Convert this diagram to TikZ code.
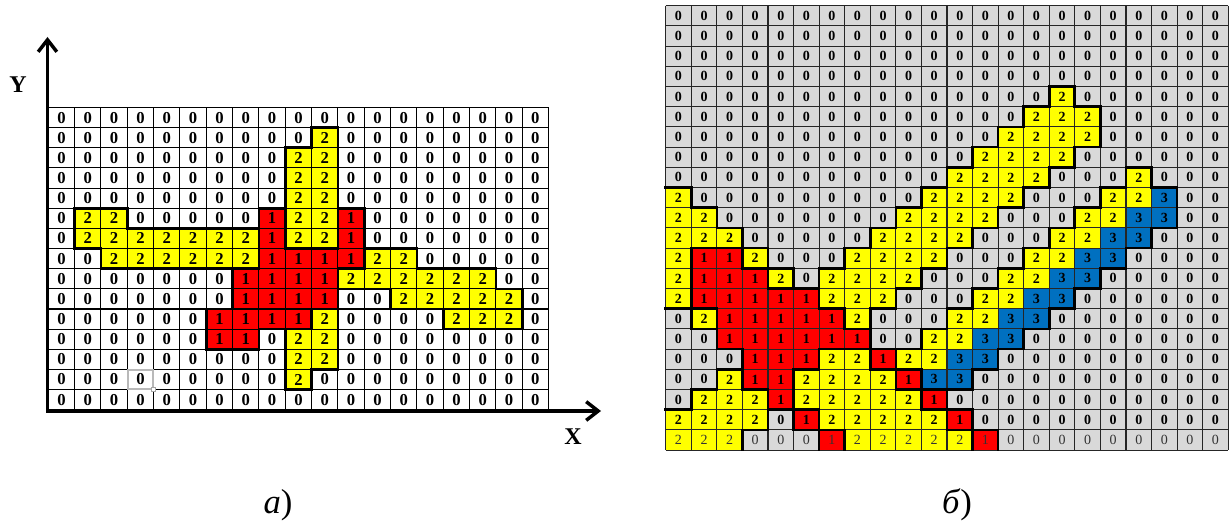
\documentclass[tikz,border=0pt]{standalone}
\usepackage{fontspec}
\setmainfont{Liberation Serif}
\usetikzlibrary{arrows.meta}
\definecolor{cyel}{HTML}{FFFF00}
\definecolor{cred}{HTML}{FF0000}
\definecolor{cblue}{HTML}{0070C0}
\definecolor{cgray}{HTML}{D9D9D9}
\colorlet{lc0}{white}\colorlet{lc1}{cred}\colorlet{lc2}{cyel}
\colorlet{rc0}{cgray}\colorlet{rc1}{cred}\colorlet{rc2}{cyel}\colorlet{rc3}{cblue}
\newcommand\loadgrid[2]{%
  \foreach \rowlist [count=\ri from 0] in {#2} {%
    \foreach \vv [count=\ci from 0] in \rowlist {%
      \expandafter\xdef\csname g#1@\ri @\ci\endcsname{\vv}%
      \expandafter\xdef\csname k#1@\ri @\ci\endcsname{\ifnum\vv=3 2\else\vv\fi}%
    }%
  }%
}
\def\LX{48.3}\def\LW{26.33}\def\LY{107.5}\def\LH{20.15}
\def\RX{665.7}\def\RW{25.57}\def\RY{5.7}\def\RH{20.2}
\begin{document}
\begin{tikzpicture}[x=0.75pt,y=-0.75pt,
  thinl/.style={line width=0.8pt, black},
  thinr/.style={line width=0.8pt, black!85},
  thickb/.style={line width=2pt, black, line cap=rect},
  lnum/.style={font=\fontsize{12.5}{12.5}\selectfont\bfseries, inner sep=0pt},
  rnum/.style={font=\fontsize{10.5}{10.5}\selectfont\bfseries, inner sep=0pt},
  rnumlast/.style={font=\fontsize{10.5}{10.5}\selectfont, inner sep=0pt, text=black!80},
  axislines/.style={line width=2.6pt, line join=miter, {Straight Barb[length=9pt,width=14pt]}-{Straight Barb[length=9pt,width=14pt]}},
  axlab/.style={font=\fontsize{18}{18}\selectfont\bfseries, inner sep=0pt},
  caplab/.style={font=\fontsize{26}{26}\selectfont, inner sep=0pt}]
\useasboundingbox (0,0) rectangle (1232,527);
\loadgrid{L}{{0,0,0,0,0,0,0,0,0,0,0,0,0,0,0,0,0,0,0},
{0,0,0,0,0,0,0,0,0,0,2,0,0,0,0,0,0,0,0},
{0,0,0,0,0,0,0,0,0,2,2,0,0,0,0,0,0,0,0},
{0,0,0,0,0,0,0,0,0,2,2,0,0,0,0,0,0,0,0},
{0,0,0,0,0,0,0,0,0,2,2,0,0,0,0,0,0,0,0},
{0,2,2,0,0,0,0,0,1,2,2,1,0,0,0,0,0,0,0},
{0,2,2,2,2,2,2,2,1,2,2,1,0,0,0,0,0,0,0},
{0,0,2,2,2,2,2,2,1,1,1,1,2,2,0,0,0,0,0},
{0,0,0,0,0,0,0,1,1,1,1,2,2,2,2,2,2,0,0},
{0,0,0,0,0,0,0,1,1,1,1,0,0,2,2,2,2,2,0},
{0,0,0,0,0,0,1,1,1,1,2,0,0,0,0,2,2,2,0},
{0,0,0,0,0,0,1,1,0,2,2,0,0,0,0,0,0,0,0},
{0,0,0,0,0,0,0,0,0,2,2,0,0,0,0,0,0,0,0},
{0,0,0,0,0,0,0,0,0,2,0,0,0,0,0,0,0,0,0},
{0,0,0,0,0,0,0,0,0,0,0,0,0,0,0,0,0,0,0}}
\loadgrid{R}{{0,0,0,0,0,0,0,0,0,0,0,0,0,0,0,0,0,0,0,0,0,0},
{0,0,0,0,0,0,0,0,0,0,0,0,0,0,0,0,0,0,0,0,0,0},
{0,0,0,0,0,0,0,0,0,0,0,0,0,0,0,0,0,0,0,0,0,0},
{0,0,0,0,0,0,0,0,0,0,0,0,0,0,0,0,0,0,0,0,0,0},
{0,0,0,0,0,0,0,0,0,0,0,0,0,0,0,2,0,0,0,0,0,0},
{0,0,0,0,0,0,0,0,0,0,0,0,0,0,2,2,2,0,0,0,0,0},
{0,0,0,0,0,0,0,0,0,0,0,0,0,2,2,2,2,0,0,0,0,0},
{0,0,0,0,0,0,0,0,0,0,0,0,2,2,2,2,0,0,0,0,0,0},
{0,0,0,0,0,0,0,0,0,0,0,2,2,2,2,0,0,0,2,0,0,0},
{2,0,0,0,0,0,0,0,0,0,2,2,2,2,0,0,0,2,2,3,0,0},
{2,2,0,0,0,0,0,0,0,2,2,2,2,0,0,0,2,2,3,3,0,0},
{2,2,2,0,0,0,0,0,2,2,2,2,0,0,0,2,2,3,3,0,0,0},
{2,1,1,2,0,0,0,2,2,2,2,0,0,0,2,2,3,3,0,0,0,0},
{2,1,1,1,2,0,2,2,2,2,0,0,0,2,2,3,3,0,0,0,0,0},
{2,1,1,1,1,1,2,2,2,0,0,0,2,2,3,3,0,0,0,0,0,0},
{0,2,1,1,1,1,1,2,0,0,0,2,2,3,3,0,0,0,0,0,0,0},
{0,0,1,1,1,1,1,1,0,0,2,2,3,3,0,0,0,0,0,0,0,0},
{0,0,0,1,1,1,2,2,1,2,2,3,3,0,0,0,0,0,0,0,0,0},
{0,0,2,1,1,2,2,2,2,1,3,3,0,0,0,0,0,0,0,0,0,0},
{0,2,2,2,1,2,2,2,2,2,1,0,0,0,0,0,0,0,0,0,0,0},
{2,2,2,2,0,1,2,2,2,2,2,1,0,0,0,0,0,0,0,0,0,0},
{2,2,2,0,0,0,1,2,2,2,2,2,1,0,0,0,0,0,0,0,0,0}}
% ---------- left grid ----------
\foreach \ri in {0,...,14}{
  \foreach \ci in {0,...,18}{
    \edef\v{\csname gL@\ri @\ci\endcsname}
    \fill[fill=lc\v] ({\LX+\ci*\LW},{\LY+\ri*\LH}) rectangle ++(\LW,\LH);
    \node[lnum] (L-\ri-\ci) at ({\LX+(\ci+0.5)*\LW},{\LY+(\ri+0.5)*\LH}) {\v};
  }
}
\foreach \ci in {0,...,19} \draw[thinl] ({\LX+\ci*\LW},\LY) -- ++(0,{15*\LH});
\foreach \ri in {0,...,15} \draw[thinl] (\LX,{\LY+\ri*\LH}) -- ++({19*\LW},0);
% selection mark
\draw[gray!55, line width=1.2pt] ({\LX+3*\LW+0.8},{\LY+13*\LH+0.8}) rectangle ({\LX+4*\LW-0.8},{\LY+14*\LH-0.8});
\draw[gray!70, fill=white, line width=0.5pt] ({\LX+4*\LW-2},{\LY+14*\LH-2}) rectangle ++(4,4);
\foreach \ri in {0,...,14}{
  \foreach \ci in {1,...,18}{
    \pgfmathtruncatemacro\cp{\ci-1}
    \edef\ka{\csname kL@\ri @\cp\endcsname}
    \edef\kb{\csname kL@\ri @\ci\endcsname}
    \ifnum\ka=\kb\relax\else
      \draw[thickb] ({\LX+\ci*\LW},{\LY+\ri*\LH}) -- ++(0,\LH);
    \fi
  }
}
\foreach \ri in {1,...,14}{
  \foreach \ci in {0,...,18}{
    \pgfmathtruncatemacro\rp{\ri-1}
    \edef\ka{\csname kL@\rp @\ci\endcsname}
    \edef\kb{\csname kL@\ri @\ci\endcsname}
    \ifnum\ka=\kb\relax\else
      \draw[thickb] ({\LX+\ci*\LW},{\LY+\ri*\LH}) -- ++(\LW,0);
    \fi
  }
}
% axes
\coordinate (ytip) at (47.5,37);
\coordinate (origin) at (47.5,411);
\coordinate (xtip) at (601,411);
\draw[axislines] (ytip) -- (origin) -- (xtip);
\node[axlab] (ylab) at (18,85) {Y};
\node[axlab] (xlab) at (573,437) {X};
% ---------- right grid ----------
\foreach \ri in {0,...,21}{
  \foreach \ci in {0,...,21}{
    \edef\v{\csname gR@\ri @\ci\endcsname}
    \fill[fill=rc\v] ({\RX+\ci*\RW},{\RY+\ri*\RH}) rectangle ++(\RW,\RH);
    \ifnum\ri=21
      \node[rnumlast] (R-\ri-\ci) at ({\RX+(\ci+0.5)*\RW},{\RY+(\ri+0.5)*\RH}) {\v};
    \else
      \node[rnum] (R-\ri-\ci) at ({\RX+(\ci+0.5)*\RW},{\RY+(\ri+0.5)*\RH}) {\v};
    \fi
  }
}
\foreach \ci in {0,...,22} \draw[thinr] ({\RX+\ci*\RW},\RY) -- ++(0,{22*\RH});
\foreach \ri in {0,...,22} \draw[thinr] (\RX,{\RY+\ri*\RH}) -- ++({22*\RW},0);
\foreach \ri in {0,...,21}{
  \foreach \ci in {1,...,21}{
    \pgfmathtruncatemacro\cp{\ci-1}
    \edef\ka{\csname kR@\ri @\cp\endcsname}
    \edef\kb{\csname kR@\ri @\ci\endcsname}
    \ifnum\ka=\kb\relax\else
      \draw[thickb] ({\RX+\ci*\RW},{\RY+\ri*\RH}) -- ++(0,\RH);
    \fi
  }
}
\foreach \ri in {1,...,21}{
  \foreach \ci in {0,...,21}{
    \pgfmathtruncatemacro\rp{\ri-1}
    \edef\ka{\csname kR@\rp @\ci\endcsname}
    \edef\kb{\csname kR@\ri @\ci\endcsname}
    \ifnum\ka=\kb\relax\else
      \draw[thickb] ({\RX+\ci*\RW},{\RY+\ri*\RH}) -- ++(\RW,0);
    \fi
  }
}
% captions
\node[caplab] (capa) at (278,505) {\textit{а})};
\node[caplab] (capb) at (957,505) {\textit{б})};
\end{tikzpicture}
\end{document}
